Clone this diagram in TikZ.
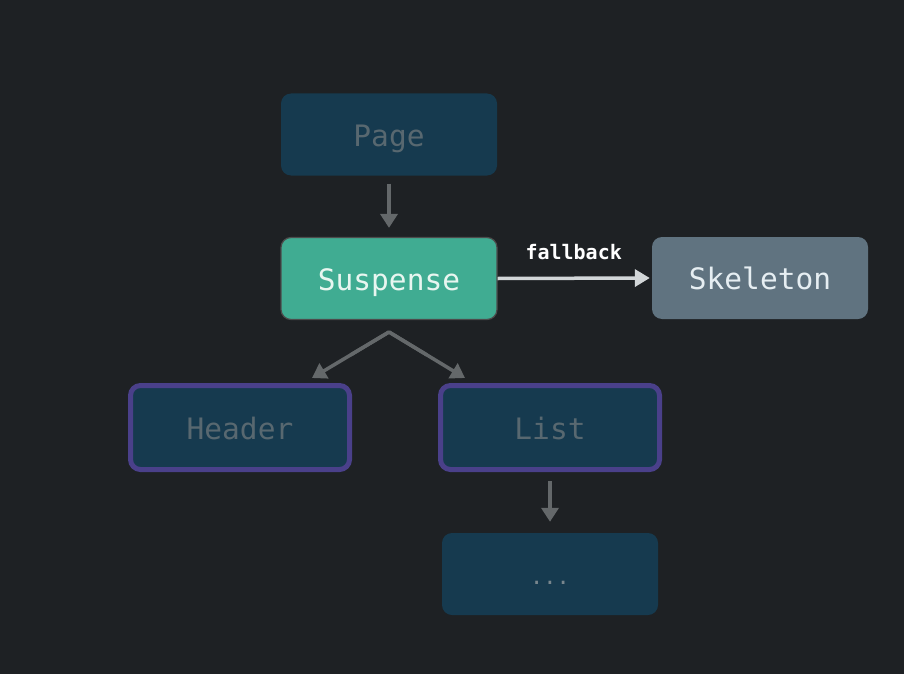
\documentclass[tikz,border=0pt]{standalone}
\usepackage{fontspec}
\setmonofont{DejaVu Sans Mono}
\usetikzlibrary{arrows.meta,calc}
\definecolor{bg}{RGB}{30,33,36}
\definecolor{dimfill}{RGB}{22,58,79}
\definecolor{dimtext}{RGB}{88,104,112}
\definecolor{susfill}{RGB}{64,172,146}
\definecolor{sustext}{RGB}{232,246,240}
\definecolor{skelfill}{RGB}{96,115,128}
\definecolor{skeltext}{RGB}{230,238,242}
\definecolor{purp}{RGB}{74,64,138}
\definecolor{arrgray}{RGB}{100,104,106}
\definecolor{arrwhite}{RGB}{210,214,216}
\tikzset{
  box/.style={rounded corners=10pt, minimum width=216pt, minimum height=82pt, inner sep=0pt,
    text height=26pt, text depth=2.5pt,
    font=\ttfamily\fontsize{29.5}{29.5}\selectfont},
  dimbox/.style={box, fill=dimfill, text=dimtext},
  purpbox/.style={box, fill=dimfill, text=dimtext, draw=purp, line width=5pt,
    minimum width=219pt, minimum height=84pt},
  conn/.style={draw=arrgray, line width=3.5pt, -{Triangle[length=14pt,width=17pt]}},
}
\begin{document}
\begin{tikzpicture}[x=1pt,y=-1pt]
\fill[bg] (0,0) rectangle (904,674);
\useasboundingbox (0,0) rectangle (904,674);
\node[dimbox] (page) at (389,134.5) {Page};
\node[box, fill=susfill, text=sustext, draw=black!70, line width=1.2pt] (sus) at (389,278.5) {Suspense};
\node[box, fill=skelfill, text=skeltext] (skel) at (760,278) {Skeleton};
\node[purpbox] (header) at (240,427.5) {Header};
\node[purpbox] (list) at (550,427.5) {List};
\node[dimbox, text=dimtext!80!white, text height=22pt, text depth=2pt, font=\ttfamily\fontsize{22}{22}\selectfont] (more) at (550,574) {...};
\coordinate (split) at (389,332);
\coordinate (hend) at (312,378);
\coordinate (lend) at (465,378);
\draw[conn] ([yshift=-8pt]page.south) -- ([yshift=9pt]sus.north);
\draw[draw=arrgray, line width=3.5pt, line join=round] ($(split)!0.5!(hend)$) -- (split) -- ($(split)!0.5!(lend)$);
\draw[conn] (split) -- (hend);
\draw[conn] (split) -- (lend);
\draw[conn] ([yshift=-9pt]list.south) -- ([yshift=11pt]more.north);
\draw[draw=arrwhite, line width=3.5pt, -{Triangle[length=15pt,width=17pt]}] (sus.east) -- node[above=13pt, text=white, font=\ttfamily\bfseries\fontsize{20}{20}\selectfont] (fb) {fallback} ([xshift=-2pt]skel.west);
\end{tikzpicture}
\end{document}
